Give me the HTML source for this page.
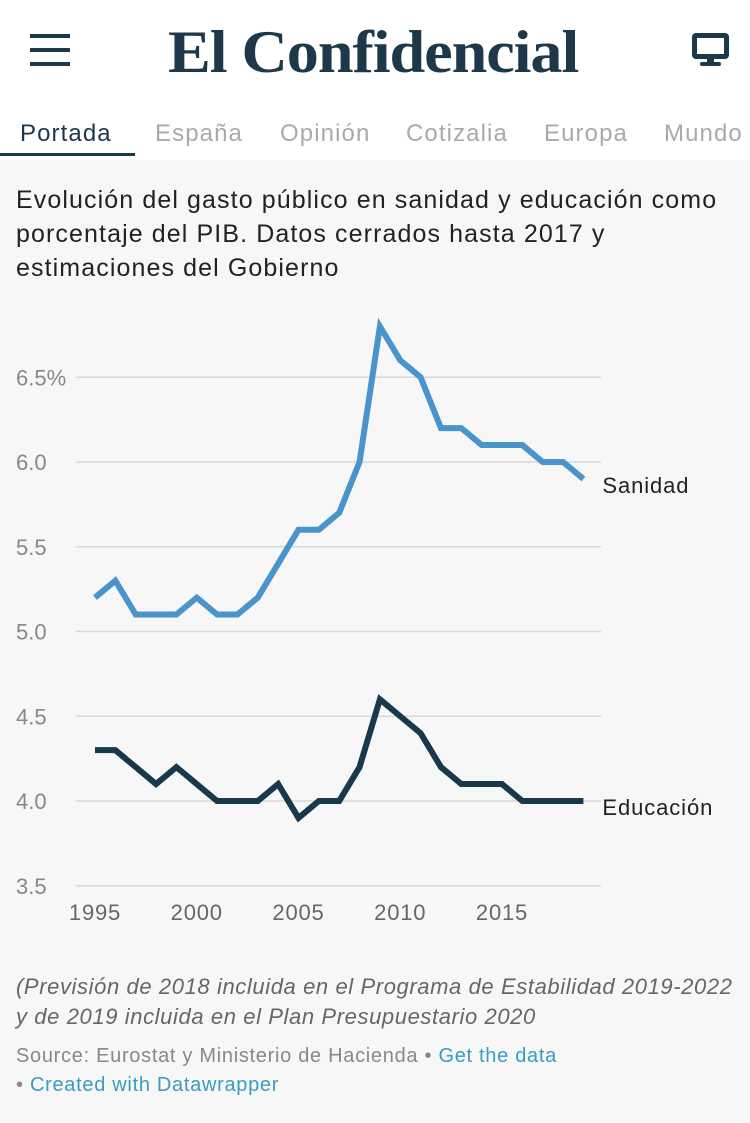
<!DOCTYPE html>
<html><head><meta charset="utf-8"><style>
html,body{margin:0;width:750px;height:1123px;overflow:hidden}
body{background:#f7f7f7;font-family:"Liberation Sans",sans-serif;position:relative}
#hdr{position:absolute;left:0;top:0;width:750px;height:160px;background:#fff}
.t{position:absolute;white-space:nowrap}
.nav{font-size:24px;letter-spacing:1.1px;top:120px}
</style></head><body>
<div id="hdr">
 <div style="position:absolute;left:30px;top:34px;width:40px;height:32px">
  <div style="height:4px;background:#1c3849;margin-bottom:10px"></div><div style="height:4px;background:#1c3849;margin-bottom:10px"></div><div style="height:4px;background:#1c3849"></div></div>
 <div class="t" style="left:168px;top:18px;font-family:'Liberation Serif',serif;font-weight:bold;font-size:60px;color:#1c3849;letter-spacing:-1px;transform:scaleX(1.07);transform-origin:0 0">El Confidencial</div>
 <div style="position:absolute;left:692px;top:33px;width:37px;height:26px;border:5px solid #1c3849;border-radius:4px;box-sizing:border-box"></div>
 <div style="position:absolute;left:707px;top:58px;width:7px;height:5px;background:#1c3849"></div>
 <div style="position:absolute;left:700px;top:62px;width:21px;height:4px;border-radius:2px;background:#1c3849"></div>
 <div class="t nav" style="left:20px;color:#1c3849">Portada</div>
 <div style="position:absolute;left:0;top:153px;width:135px;height:3px;background:#1c3849"></div>
 <div class="t nav" style="left:155px;color:#aaa">España</div>
 <div class="t nav" style="left:280px;color:#aaa">Opinión</div>
 <div class="t nav" style="left:406px;color:#aaa">Cotizalia</div>
 <div class="t nav" style="left:544px;color:#aaa">Europa</div>
 <div class="t nav" style="left:664px;color:#aaa">Mundo</div>
</div>
<div class="t" style="left:16px;top:183px;font-size:25px;letter-spacing:1.1px;line-height:34px;color:#222">Evolución del gasto público en sanidad y educación como<br>porcentaje del PIB. Datos cerrados hasta 2017 y<br>estimaciones del Gobierno</div>
<svg id="chart" width="750" height="650" style="position:absolute;left:0;top:300px"></svg>
<div class="t" style="left:16px;top:972px;font-size:22px;letter-spacing:0.6px;line-height:30px;font-style:italic;color:#666">(Previsión de 2018 incluida en el Programa de Estabilidad 2019-2022<br>y de 2019 incluida en el Plan Presupuestario 2020</div>
<div class="t" style="left:16px;top:1042px;font-size:20px;letter-spacing:0.7px;line-height:29px;color:#888">Source: Eurostat y Ministerio de Hacienda • <span style="color:#3a9bc3">Get the data</span><br>• <span style="color:#3a9bc3">Created with Datawrapper</span></div>
<script>
const years=[1995,1996,1997,1998,1999,2000,2001,2002,2003,2004,2005,2006,2007,2008,2009,2010,2011,2012,2013,2014,2015,2016,2017,2018,2019];
const sanidad=[5.2,5.3,5.1,5.1,5.1,5.2,5.1,5.1,5.2,5.4,5.6,5.6,5.7,6.0,6.8,6.6,6.5,6.2,6.2,6.1,6.1,6.1,6.0,6.0,5.9];
const educacion=[4.3,4.3,4.2,4.1,4.2,4.1,4.0,4.0,4.0,4.1,3.9,4.0,4.0,4.2,4.6,4.5,4.4,4.2,4.1,4.1,4.1,4.0,4.0,4.0,4.0];
const yTicks=[3.5,4.0,4.5,5.0,5.5,6.0,6.5];
const yTickLabels=["3.5","4.0","4.5","5.0","5.5","6.0","6.5%"];
const xTicks=[1995,2000,2005,2010,2015];
const NS="http://www.w3.org/2000/svg",svg=document.getElementById('chart');
const OY=300;
const x=v=>95+(v-1995)*20.35;
const y=v=>801-(v-4)*169.5-OY;
function el(t,a){const e=document.createElementNS(NS,t);for(const k in a)e.setAttribute(k,a[k]);svg.appendChild(e);return e;}
yTicks.forEach((t,i)=>{
 const g=el('line',{x1:76,x2:601,y1:y(t),y2:y(t),stroke:'#d8d8d8','stroke-width':1.5});
 
 
 const tx=el('text',{x:16,y:y(t)+8,'font-size':22,fill:'#888','font-family':'Liberation Sans'});
 tx.textContent=yTickLabels[i];
 
 
});
xTicks.forEach(t=>{
 const tx=el('text',{x:x(t),y:y(3.5)+34,'font-size':22,fill:'#666','text-anchor':'middle','font-family':'Liberation Sans','letter-spacing':0.8});
 tx.textContent=t;
 
 
});
function series(vals,col,name,label){
 const p=el('path',{d:vals.map((v,i)=>(i?'L':'M')+x(years[i])+','+y(v)).join(''),fill:'none',stroke:col,'stroke-width':6,'stroke-linejoin':'miter'});
 
 
 const l=vals.length-1;
 const tx=el('text',{x:x(years[l])+19,y:y(vals[l])+14,'font-size':22,fill:'#222','font-family':'Liberation Sans','letter-spacing':0.9});
 tx.textContent=label;
 
 
}
series(sanidad,'#4a94cc','sanidad','Sanidad');
series(educacion,'#17394b','educacion','Educación');
</script>
</body></html>
